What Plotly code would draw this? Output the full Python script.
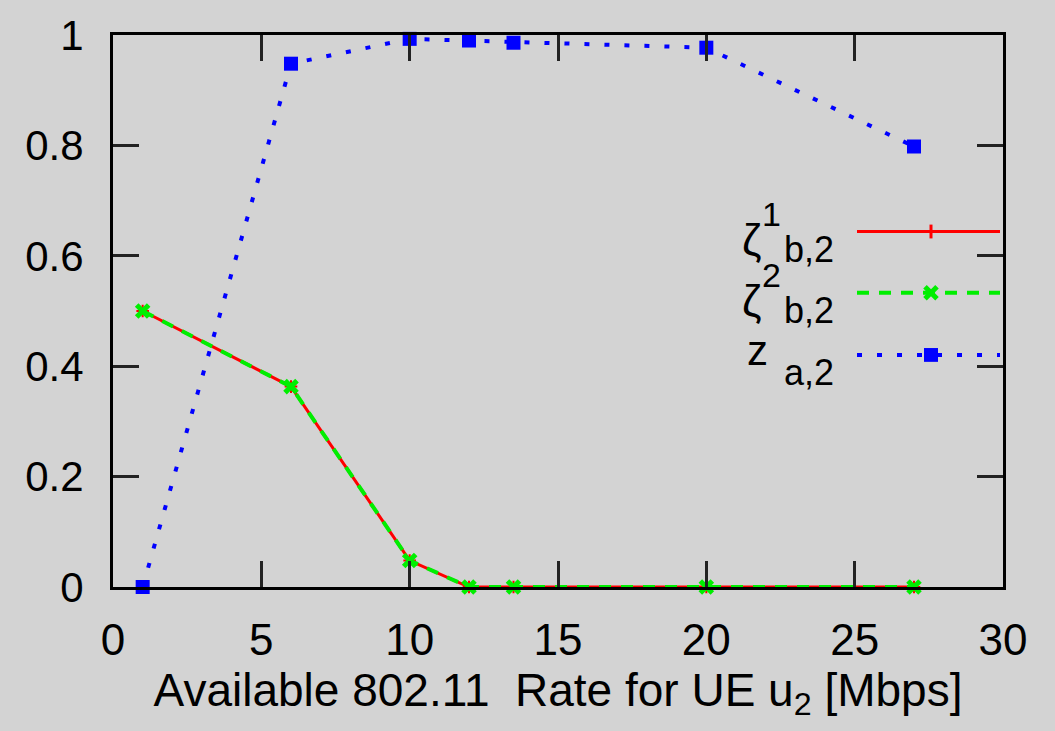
import plotly.graph_objects as go

rates = [1, 6, 10, 12, 13.5, 20, 27]
zeta1_b2 = [0.50, 0.363, 0.048, 0.0, 0.0, 0.0, 0.0]
zeta2_b2 = [0.50, 0.363, 0.048, 0.0, 0.0, 0.0, 0.0]
z_a2 = [0.0, 0.948, 0.993, 0.99, 0.986, 0.977, 0.798]

x_ticks = [0, 5, 10, 15, 20, 25, 30]
y_ticks = [0, 0.2, 0.4, 0.6, 0.8, 1]
y_tick_text = ["0", "0.2", "0.4", "0.6", "0.8", "1"]

BG = "#d3d3d3"
FONT = "Liberation Sans, Arial, sans-serif"
RED = "#ff0000"
GREEN = "#00ee00"
BLUE = "#0000ff"

fig = go.Figure()
fig.add_trace(go.Scatter(x=rates, y=zeta1_b2, mode="lines+markers",
                         line=dict(color=RED, width=3),
                         marker=dict(symbol="cross-thin", size=9, line=dict(color=RED, width=2)),
                         showlegend=False, cliponaxis=False))
fig.add_trace(go.Scatter(x=rates, y=zeta2_b2, mode="lines+markers",
                         line=dict(color=GREEN, width=4, dash="12px,10px"),
                         marker=dict(symbol="x-thin", size=12, line=dict(color=GREEN, width=5)),
                         showlegend=False, cliponaxis=False))
fig.add_trace(go.Scatter(x=rates, y=z_a2, mode="lines+markers",
                         line=dict(color=BLUE, width=4, dash="5px,15px"),
                         marker=dict(symbol="square", size=14, color=BLUE),
                         showlegend=False, cliponaxis=False))

# pixel -> paper helpers for the hand-made legend
L, R, T, B = 113, 1003, 28, 587
def px(X):
    return (X - L) / (R - L)
def py(Y):
    return (B - Y) / (B - T)

shapes = []
annotations = []
entries = [
    dict(sym="ζ", sup="1", sub="b,2", y=227, color=RED, dash="solid", width=3, marker="plus"),
    dict(sym="ζ", sup="2", sub="b,2", y=289, color=GREEN, dash="12px,10px", width=4, marker="x"),
    dict(sym="z", sup="", sub="a,2", y=352, color=BLUE, dash="5px,15px", width=4, marker="square"),
]
for e in entries:
    yy = e["y"]
    shapes.append(dict(type="line", xref="paper", yref="paper", x0=px(857), x1=px(1000),
                       y0=py(yy), y1=py(yy), line=dict(color=e["color"], width=e["width"], dash=e["dash"])))
    cx = 931
    if e["marker"] == "plus":
        shapes.append(dict(type="line", xref="paper", yref="paper", x0=px(cx), x1=px(cx),
                           y0=py(yy - 7), y1=py(yy + 7), line=dict(color=e["color"], width=3)))
        shapes.append(dict(type="line", xref="paper", yref="paper", x0=px(cx - 7), x1=px(cx + 7),
                           y0=py(yy), y1=py(yy), line=dict(color=e["color"], width=3)))
    elif e["marker"] == "x":
        shapes.append(dict(type="line", xref="paper", yref="paper", x0=px(cx - 6), x1=px(cx + 6),
                           y0=py(yy - 6), y1=py(yy + 6), line=dict(color=e["color"], width=5)))
        shapes.append(dict(type="line", xref="paper", yref="paper", x0=px(cx - 6), x1=px(cx + 6),
                           y0=py(yy + 6), y1=py(yy - 6), line=dict(color=e["color"], width=5)))
    else:
        shapes.append(dict(type="rect", xref="paper", yref="paper", x0=px(cx - 7), x1=px(cx + 7),
                           y0=py(yy - 7), y1=py(yy + 7), line=dict(width=0), fillcolor=e["color"]))
    if e["sym"] == "ζ":
        annotations.append(dict(text="ζ", xref="paper", yref="paper", x=px(751), y=py(yy + 8),
                                xanchor="center", yanchor="middle", showarrow=False,
                                font=dict(family=FONT, size=44, color="black")))
        annotations.append(dict(text=e["sup"], xref="paper", yref="paper", x=px(771), y=py(yy - 18),
                                xanchor="center", yanchor="middle", showarrow=False,
                                font=dict(family=FONT, size=34, color="black")))
    else:
        annotations.append(dict(text="z", xref="paper", yref="paper", x=px(757), y=py(yy - 4),
                                xanchor="center", yanchor="middle", showarrow=False,
                                font=dict(family=FONT, size=42, color="black")))
    annotations.append(dict(text=e["sub"], xref="paper", yref="paper", x=px(836), y=py(yy + 18),
                            xanchor="right", yanchor="middle", showarrow=False,
                            font=dict(family=FONT, size=36, color="black")))

fig.update_layout(
    width=1055, height=731,
    paper_bgcolor=BG, plot_bgcolor=BG,
    margin=dict(l=L, r=1055 - R, t=T, b=731 - B),
    font=dict(family=FONT, size=42, color="black"),
    shapes=shapes, annotations=annotations,
    showlegend=False,
)
fig.update_xaxes(range=[0, 30], tickvals=x_ticks, ticks="inside", ticklen=26, tickwidth=3,
                 tickcolor="#222", showline=True, linecolor="black", linewidth=3, mirror="ticks",
                 showgrid=False, zeroline=False, ticklabelstandoff=12, tickfont=dict(size=44),
                 title=dict(text="Available 802.11  Rate for UE u<sub>2</sub> [Mbps]", standoff=8,
                            font=dict(size=46)))
fig.update_yaxes(range=[0, 1], tickvals=y_ticks, ticktext=y_tick_text, ticks="inside", ticklen=26,
                 tickwidth=3, tickcolor="#222", showline=True, linecolor="black", linewidth=3,
                 mirror="ticks", showgrid=False, zeroline=False, ticklabelstandoff=18,
                 tickfont=dict(size=42))

fig.write_html("out.html")
